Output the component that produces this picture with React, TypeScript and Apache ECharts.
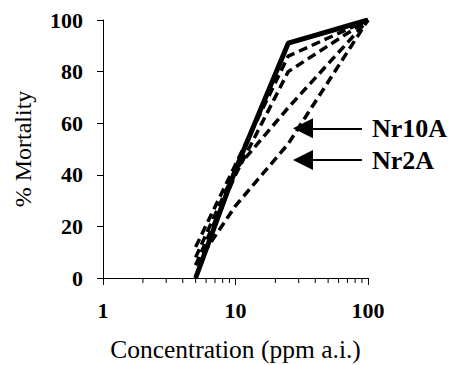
import React, { useEffect, useRef } from "react";
import * as echarts from "echarts";

const concentrations = [5, 10, 25, 100];
const solidSeries = [0, 42, 91, 100];
const dashedA = [12, 44, 86, 100];
const dashedB = [5, 40, 80, 100];
const nr10A = [8, 42, 66, 100];
const nr2A = [5, 28, 52, 100];
const yTicks = [0, 20, 40, 60, 80, 100];
const minorTickValues = [2, 3, 4, 5, 6, 7, 8, 9, 20, 30, 40, 50, 60, 70, 80, 90];
const arrows = [
  { name: "Nr10A", y: 58, from: 90, to: 32.3 },
  { name: "Nr2A", y: 45.7, from: 90, to: 32.3 },
];

const SERIF = "'Liberation Serif', 'Times New Roman', serif";

function pairs(ys: number[]) {
  return concentrations.map((c, i) => [c, ys[i]]);
}

export default function App() {
  const ref = useRef<HTMLDivElement>(null);
  useEffect(() => {
    if (!ref.current) return;
    const chart = echarts.init(ref.current, undefined, { renderer: "svg" });
    const dashedStyle = { color: "#000", width: 3.5, type: [9, 5] as any };
    const arrowMark = (a: typeof arrows[0]) => ({
      silent: true,
      symbol: ["none", "triangle"],
      symbolSize: 20,
      lineStyle: { color: "#000", width: 2, type: "solid" },
      label: {
        show: true,
        position: "start",
        distance: 10,
        formatter: a.name,
        color: "#000",
        fontFamily: SERIF,
        fontWeight: "bold",
        fontSize: 26,
      },
      data: [[{ coord: [a.from, a.y] }, { coord: [a.to, a.y] }]],
    });
    chart.setOption({
      animation: false,
      grid: {
        left: 103,
        top: 20,
        width: 265,
        height: 258,
        containLabel: false,
        outerBoundsMode: "none",
      },
      xAxis: {
        type: "log",
        logBase: 10,
        min: 1,
        max: 100,
        name: "Concentration (ppm a.i.)",
        nameLocation: "middle",
        nameGap: 58,
        nameTextStyle: { fontFamily: SERIF, fontSize: 25.5, color: "#000" },
        axisLine: { lineStyle: { color: "#000", width: 1 } },
        axisTick: { show: true, inside: false, length: 7, lineStyle: { color: "#000" } },
        axisLabel: {
          fontFamily: SERIF,
          fontWeight: "bold",
          fontSize: 22,
          color: "#000",
          margin: 21,
        },
        splitLine: { show: false },
      },
      yAxis: {
        type: "value",
        min: 0,
        max: 100,
        interval: 20,
        name: "% Mortality",
        nameLocation: "middle",
        nameGap: 68,
        nameRotate: 90,
        nameTextStyle: { fontFamily: SERIF, fontSize: 24, color: "#000" },
        axisLine: { show: true, lineStyle: { color: "#000", width: 1 } },
        axisTick: { show: true, length: 6, lineStyle: { color: "#000" } },
        axisLabel: {
          fontFamily: SERIF,
          fontWeight: "bold",
          fontSize: 22,
          color: "#000",
          margin: 20,
          formatter: (v: number) => (yTicks.includes(v) ? String(v) : ""),
        },
        splitLine: { show: false },
      },
      series: [
        {
          type: "custom",
          silent: true,
          clip: false,
          data: minorTickValues.map((v) => [v, 0]),
          encode: { x: 0, y: 1 },
          renderItem: (params: any, api: any) => {
            const p = api.coord([api.value(0), 0]);
            return {
              type: "line",
              shape: { x1: p[0], y1: p[1], x2: p[0], y2: p[1] + 5 },
              style: { stroke: "#000", lineWidth: 1 },
            };
          },
        },
        {
          name: "Nr2A",
          type: "line",
          data: pairs(nr2A),
          showSymbol: false,
          symbol: "none",
          lineStyle: dashedStyle,
          markLine: arrowMark(arrows[1]),
        },
        {
          name: "Nr10A",
          type: "line",
          data: pairs(nr10A),
          showSymbol: false,
          symbol: "none",
          lineStyle: dashedStyle,
          markLine: arrowMark(arrows[0]),
        },
        {
          name: "B",
          type: "line",
          data: pairs(dashedB),
          showSymbol: false,
          symbol: "none",
          lineStyle: dashedStyle,
        },
        {
          name: "A",
          type: "line",
          data: pairs(dashedA),
          showSymbol: false,
          symbol: "none",
          lineStyle: dashedStyle,
        },
        {
          name: "Solid",
          type: "line",
          data: pairs(solidSeries),
          showSymbol: false,
          symbol: "none",
          lineStyle: { color: "#000", width: 5, type: "solid" },
        },
      ],
    });
    return () => chart.dispose();
  }, []);
  return <div ref={ref} style={{ width: 451, height: 365, position: "absolute", left: 0, top: 0 }} />;
}
